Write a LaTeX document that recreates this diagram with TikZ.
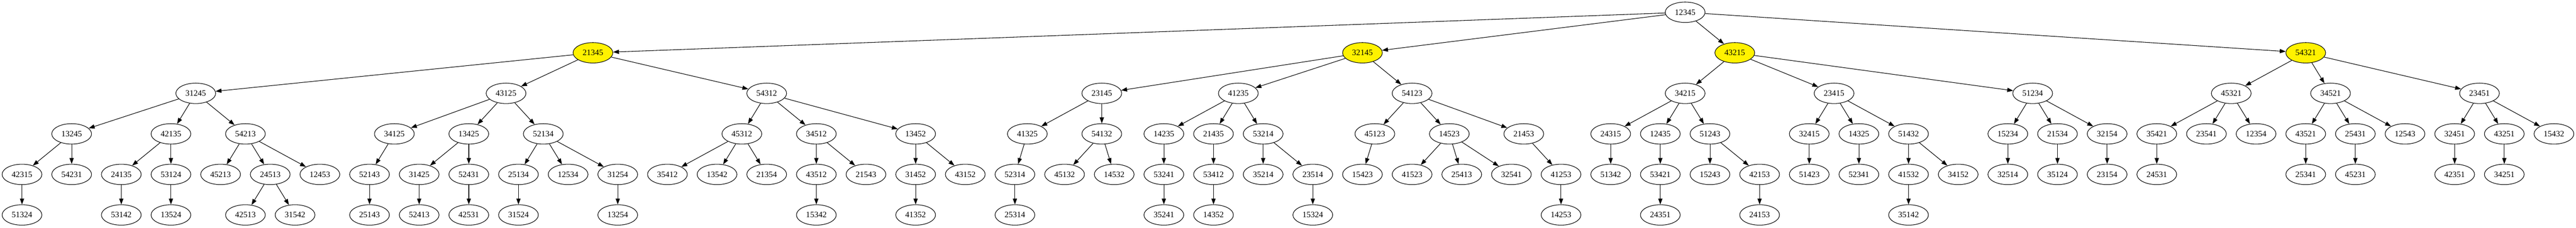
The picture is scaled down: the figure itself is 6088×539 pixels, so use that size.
\documentclass[tikz,border=0pt]{standalone}
\usepackage{fontspec}
\setmainfont{Liberation Serif}
\usetikzlibrary{shapes.geometric,arrows.meta}
\begin{document}
\begin{tikzpicture}[x=1pt,y=1pt,
  nd/.style={ellipse,draw=black,line width=1.3pt,minimum width=94pt,minimum height=48.3pt,inner sep=0pt,
    font=\fontsize{19.5}{23}\selectfont},
  hl/.style={nd,fill=yellow},
  gp/.style 2 args={at={({52+117.33*(#1)},{-29-95.9*(#2)})}},
  edge/.style={line width=1.3pt,-{Triangle[length=14pt,width=10pt]}}]
\useasboundingbox (0,0) rectangle (6088,-539);
% level 0
\node[nd,gp={33.5}{0}] (n12345) {12345};
% level 1 (highlighted)
\foreach \n/\i in {21345/11.5,32145/27,43215/34.5,54321/46}
  \node[hl,gp={\i}{1}] (n\n) {\n};
% level 2
\foreach \n/\i in {31245/3.5,43125/9.75,54312/15,23145/21.75,41235/24.5,54123/28,34215/33.5,23415/36.5,51234/40.5,45321/44.5,34521/46.5,23451/49.5}
  \node[nd,gp={\i}{2}] (n\n) {\n};
% level 3
\foreach \n/\i in {13245/1,42135/3,54213/4.5,34125/7.5,13425/9,52134/10.5,45312/14.5,34512/16,13452/18,41325/20.25,54132/21.75,14235/23,21435/24,53214/25,45123/27.25,14523/28.75,21453/30.25,24315/32,12435/33,51243/34,32415/36,14325/37,51432/38,15234/40,21534/41,32154/42,35421/43,23541/44,12354/45,43521/46,25431/47,12543/48,32451/49,43251/50,15432/51}
  \node[nd,gp={\i}{3}] (n\n) {\n};
% level 4
\foreach \n/\i in {42315/0,54231/1,24135/2,53124/3,45213/4,24513/5,12453/6,52143/7,31425/8,52431/9,25134/10,12534/11,31254/12,35412/13,13542/14,21354/15,43512/16,21543/17,31452/18,43152/19,52314/20,45132/21,14532/22,53241/23,53412/24,35214/25,23514/26,15423/27,41523/28,25413/29,32541/30,41253/31,51342/32,53421/33,15243/34,42153/35,51423/36,52341/37,41532/38,34152/39,32514/40,35124/41,23154/42,24531/43,25341/46,45231/47,42351/49,34251/50}
  \node[nd,gp={\i}{4}] (n\n) {\n};
% level 5
\foreach \n/\i in {51324/0,53142/2,13524/3,42513/4.5,31542/5.5,25143/7,52413/8,42531/9,31524/10,13254/12,15342/16,41352/18,25314/20,35241/23,14352/24,15324/26,14253/31,24351/33,24153/35,35142/38}
  \node[nd,gp={\i}{5}] (n\n) {\n};
% edges
\foreach \a/\b in {12345/21345,12345/32145,12345/43215,12345/54321,
  21345/31245,21345/43125,21345/54312,
  31245/13245,31245/42135,31245/54213,
  13245/42315,13245/54231,42315/51324,
  42135/24135,42135/53124,24135/53142,53124/13524,
  54213/45213,54213/24513,54213/12453,24513/42513,24513/31542,
  43125/34125,43125/13425,43125/52134,34125/52143,52143/25143,
  13425/31425,13425/52431,31425/52413,52431/42531,
  52134/25134,52134/12534,52134/31254,25134/31524,31254/13254,
  54312/45312,54312/34512,54312/13452,
  45312/35412,45312/13542,45312/21354,
  34512/43512,34512/21543,43512/15342,
  13452/31452,13452/43152,31452/41352,
  32145/23145,32145/41235,32145/54123,
  23145/41325,23145/54132,41325/52314,52314/25314,54132/45132,54132/14532,
  41235/14235,41235/21435,41235/53214,14235/53241,53241/35241,21435/53412,53412/14352,
  53214/35214,53214/23514,23514/15324,
  54123/45123,54123/14523,54123/21453,45123/15423,
  14523/41523,14523/25413,14523/32541,21453/41253,41253/14253,
  43215/34215,43215/23415,43215/51234,
  34215/24315,34215/12435,34215/51243,24315/51342,12435/53421,53421/24351,
  51243/15243,51243/42153,42153/24153,
  23415/32415,23415/14325,23415/51432,32415/51423,14325/52341,
  51432/41532,51432/34152,41532/35142,
  51234/15234,51234/21534,51234/32154,15234/32514,21534/35124,32154/23154,
  54321/45321,54321/34521,54321/23451,
  45321/35421,45321/23541,45321/12354,35421/24531,
  34521/43521,34521/25431,34521/12543,43521/25341,25431/45231,
  23451/32451,23451/43251,23451/15432,32451/42351,43251/34251}
  \draw[edge] (n\a) -- (n\b);
\end{tikzpicture}
\end{document}
